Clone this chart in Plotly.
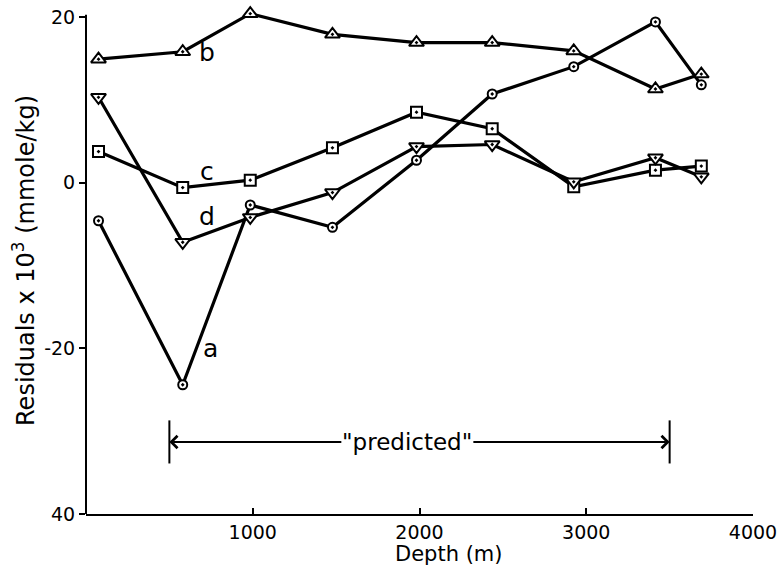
import plotly.graph_objects as go

depth = [75, 580, 985, 1478, 1982, 2436, 2925, 3415, 3690]
series_a = [-4.6, -24.4, -2.7, -5.4, 2.7, 10.7, 14.0, 19.4, 11.8]
series_b = [14.9, 15.8, 20.4, 17.9, 16.9, 16.9, 15.9, 11.3, 13.1]
series_c = [3.75, -0.6, 0.3, 4.2, 8.5, 6.5, -0.5, 1.5, 2.0]
series_d = [10.3, -7.2, -4.2, -1.2, 4.35, 4.6, 0.1, 3.0, 0.7]

x_ticks = [1000, 2000, 3000, 4000]
y_ticks = [20, 0, -20, -40]
y_ticktext = ["20", "0", "-20", "40"]

series_labels = ["a", "b", "c", "d"]
label_pos = [(748, -20.0), (724, 15.7), (724, 1.3), (726, -4.1)]

predicted_range = [500, 3500]
predicted_y = -31.3
predicted_text_x = 1924
predicted_text_right = 2314

FONT = "DejaVu Sans"

Y_MIN, Y_MAX = -40, 21.2
Y_LINE_TOP = 20.25

fig = go.Figure()

specs = [
    (series_a, "circle-dot", 9),
    (series_b, "triangle-up-dot", 13),
    (series_c, "square-dot", 11),
    (series_d, "triangle-down-dot", 13),
]
for vals, sym, size in specs:
    fig.add_trace(go.Scatter(
        x=depth, y=vals, mode="lines+markers",
        line=dict(color="black", width=3.2),
        marker=dict(symbol=sym, size=size, color="white",
                    line=dict(color="black", width=2)),
        showlegend=False, cliponaxis=False,
    ))

for lab, (lx, ly) in zip(series_labels, label_pos):
    fig.add_annotation(x=lx, y=ly, text=lab, showarrow=False,
                       font=dict(family=FONT, size=25, color="black"),
                       xanchor="center", yanchor="middle")

# y axis line (drawn as shape so it ends just above the top tick)
fig.add_shape(type="line", xref="paper", yref="y", x0=0, x1=0,
              y0=Y_MIN, y1=Y_LINE_TOP, line=dict(color="black", width=2))

# "predicted" bracket
for bx in predicted_range:
    fig.add_shape(type="line", x0=bx, x1=bx, y0=predicted_y + 2.6,
                  y1=predicted_y - 2.6, line=dict(color="black", width=2))

fig.add_annotation(x=predicted_range[0], y=predicted_y,
                   ax=predicted_text_x, ay=predicted_y,
                   axref="x", ayref="y", text='"predicted"', showarrow=True,
                   borderpad=0, arrowhead=4, arrowsize=1.2, arrowwidth=2,
                   arrowcolor="black",
                   font=dict(family=FONT, size=23, color="black"))
fig.add_annotation(x=predicted_range[1], y=predicted_y,
                   ax=predicted_text_right, ay=predicted_y,
                   axref="x", ayref="y", text="", showarrow=True,
                   arrowhead=4, arrowsize=1.2, arrowwidth=2, arrowcolor="black")

# x-axis title
fig.add_annotation(x=0.543, y=-0.079, xref="paper", yref="paper",
                   text="Depth (m)", showarrow=False, yanchor="middle",
                   borderpad=0,
                   font=dict(family=FONT, size=21, color="black"))

fig.update_layout(
    width=783, height=567,
    margin=dict(l=86, r=30, t=7, b=53, autoexpand=False),
    plot_bgcolor="white", paper_bgcolor="white",
    font=dict(family=FONT, size=19, color="black"),
)
fig.update_xaxes(
    range=[0, 4000], tickvals=x_ticks, ticks="inside", ticklen=6,
    tickwidth=2, tickcolor="black", showline=True, linecolor="black",
    linewidth=2, showgrid=False, zeroline=False,
    tickfont=dict(family=FONT, size=19), automargin=False,
)
fig.update_yaxes(
    range=[Y_MIN, Y_MAX], tickvals=y_ticks, ticktext=y_ticktext,
    ticks="outside", ticklen=6, tickwidth=2, tickcolor="black",
    showline=False, showgrid=False, zeroline=False,
    title=dict(text="Residuals x 10<sup>3</sup> (mmole/kg)",
               font=dict(family=FONT, size=24), standoff=2),
    tickfont=dict(family=FONT, size=19), automargin=False,
)

fig.write_html("out.html")
